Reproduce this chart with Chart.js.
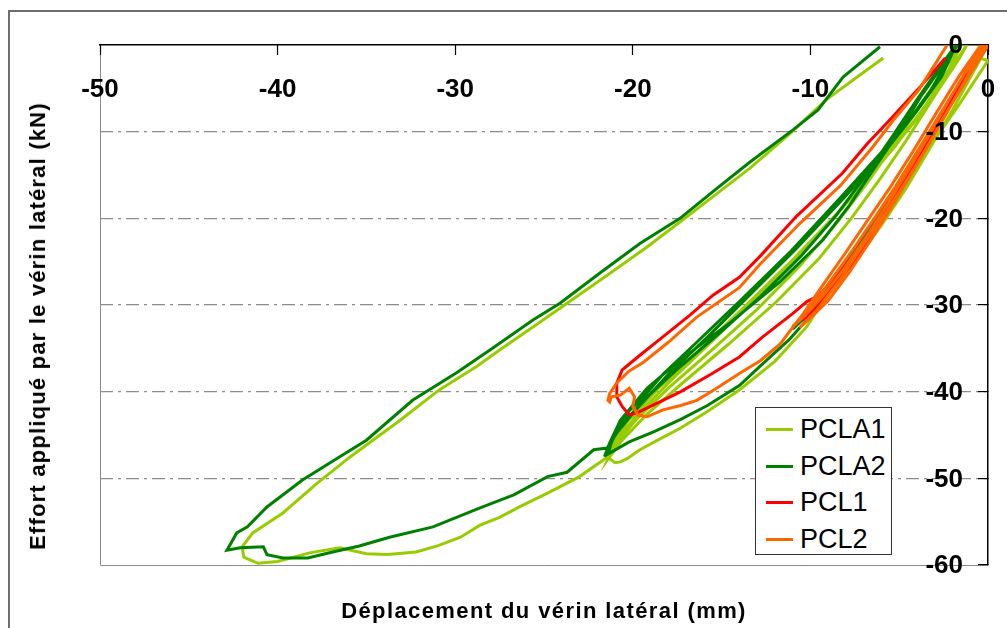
<!DOCTYPE html>
<html>
<head>
<meta charset="utf-8">
<script src="https://cdn.jsdelivr.net/npm/chart.js@4.4.1/dist/chart.umd.min.js"></script>
<style>
  html, body { margin: 0; padding: 0; background: #fff; overflow: hidden; }
  #wrap { position: relative; width: 1007px; height: 628px; overflow: hidden; font-family: "Liberation Sans", Arial, sans-serif; }
  #frame { position: absolute; left: 8px; top: 10px; width: 1100px; height: 700px; border: 2px solid #6e6e6e; }
  canvas { position: absolute; left: 0; top: 0; }
  .x-title { position: absolute; left: 544px; top: 611px; transform: translate(-50%, -50%); font-weight: bold; font-size: 22px; letter-spacing: 1.4px; white-space: nowrap; color: #000; }
  .y-title { position: absolute; left: 38px; top: 326px; transform: translate(-50%, -50%) rotate(-90deg); font-weight: bold; font-size: 22px; letter-spacing: 1.2px; white-space: nowrap; color: #000; }
  .legend { position: absolute; left: 755px; top: 407px; width: 137px; height: 148px; border: 1.5px solid #333; background: #fff; padding-top: 3px; box-sizing: border-box; }
  .legend-row { height: 36.7px; line-height: 36.7px; display: flex; align-items: center; font-size: 27px; color: #000; }
  .legend-line { width: 27px; height: 3px; margin-left: 10px; margin-right: 7px; }
</style>
</head>
<body>
<div id="wrap">
  <div id="frame"></div>
  <canvas id="chart" width="1007" height="628"></canvas>
  <div class="x-title">Déplacement du vérin latéral (mm)</div>
  <div class="y-title">Effort appliqué par le vérin latéral (kN)</div>
  <div class="legend" id="legend"></div>
</div>
<script>
// axis ticks
const xTicks = [-50, -40, -30, -20, -10, 0];
const yTicks = [0, -10, -20, -30, -40, -50, -60];

// series names / colours
const seriesNames = ['PCLA1', 'PCLA2', 'PCL1', 'PCL2'];
const seriesColors = ['#99cc00', '#008000', '#ff0000', '#ff6600'];

// [displacement mm, force kN]
const pcla1 = [
  [0, 0], [-0.8, -3], [-2.0, -7.5], [-3.3, -12], [-4.6, -16.5], [-5.9, -20.5], [-7.3, -24.5], [-8.8, -28.2], [-10.3, -31.5], [-11.0, -32.5],
  [-10.0, -30.5], [-8.6, -27], [-7.1, -23], [-5.7, -18.8], [-4.3, -14.2], [-2.9, -9.6], [-1.6, -5.2], [-0.5, -1.5], [0.0, -1.8],
  [-1.6, -6.8], [-3.2, -11.5], [-4.9, -16.2], [-6.5, -20.5], [-8.3, -26.3], [-10.2, -32.5], [-12.0, -36.5], [-14.0, -39.8], [-15.8, -42.3],
  [-17.3, -44.2], [-18.6, -45.6], [-19.6, -46.7], [-20.3, -47.7], [-20.7, -48.1], [-21.0, -48.2], [-21.4, -47.6],
  [-21.0, -45.5], [-20.2, -43.2], [-18.5, -39.5], [-16.4, -35.5], [-14.0, -30.8], [-11.1, -25.0], [-8.3, -19.0], [-6.0, -13.5], [-4.2, -9.0],
  [-2.8, -5.2], [-1.6, -1.5], [-1.2, 0],
  [-2.0, -2.5], [-3.2, -6.5], [-4.6, -11], [-6.1, -15.5], [-7.7, -20], [-9.5, -24.6], [-11.9, -29.6], [-14.6, -34.5], [-17.2, -39],
  [-19.2, -42.6], [-20.6, -45.6], [-21.4, -47.8],
  [-20.9, -45.6], [-19.8, -42.8], [-17.8, -38.6], [-15.4, -33.9], [-12.8, -28.6], [-10.0, -22.8], [-7.4, -17.0], [-5.2, -11.6], [-3.5, -6.9],
  [-2.2, -2.8], [-1.5, 0],
  [-2.4, -2.6], [-3.7, -6.6], [-5.2, -11.2], [-6.8, -15.9], [-8.5, -20.5], [-10.6, -25.5], [-13.0, -30.5], [-15.6, -35.3], [-18.0, -39.6],
  [-19.8, -43.2], [-21.0, -46.2], [-21.4, -47.5],
  [-23.0, -49.8], [-24.8, -51.7], [-26.3, -53.2], [-27.5, -54.5], [-28.6, -55.4], [-29.7, -56.8], [-31.0, -57.8], [-32.2, -58.5], [-33.8, -58.8],
  [-35.0, -58.7], [-36.5, -58.0], [-38.2, -58.6], [-40.0, -59.6], [-41.1, -59.8], [-41.9, -59.1], [-42.0, -57.9],
  [-41.4, -56.3], [-39.7, -54.0], [-37.8, -50.6], [-35.9, -47.5], [-33.1, -43.3], [-30.9, -39.8], [-28.8, -37.1], [-27.5, -35.2], [-25.6, -32.5],
  [-23.7, -29.8], [-21.4, -26.5], [-19.2, -23.3], [-17.2, -20.2], [-15.3, -17.2], [-13.4, -14.2], [-11.2, -10.3], [-9.1, -6.3], [-7.5, -3.9], [-5.9, -1.5]
];

const pcla2 = [
  [0, 0], [-1.1, -3.5], [-2.4, -8], [-3.8, -12.5], [-5.2, -17], [-6.6, -21], [-8.0, -25], [-9.5, -29], [-11.0, -32.8],
  [-10.2, -31.2], [-8.8, -28], [-7.4, -24.2], [-6.0, -20], [-4.6, -15.5], [-3.2, -10.5], [-1.9, -6], [-0.8, -2], [-0.2, 0],
  [-1.2, -3.5], [-2.6, -8.5], [-4.0, -13], [-5.4, -17.5], [-6.8, -21.5], [-8.3, -26.5], [-9.8, -30.8], [-11.2, -34], [-12.8, -37],
  [-14.0, -39.3], [-15.8, -41.6], [-17.3, -43.2], [-18.8, -44.6], [-20.2, -45.8], [-21.4, -47.2],
  [-21.1, -45.2], [-20.2, -42.2], [-19.4, -40.6], [-18.3, -38.0], [-16.4, -34.3], [-14.0, -29.6], [-11.1, -23.8], [-8.3, -17.6], [-6.1, -12.6],
  [-4.5, -8.8], [-3.2, -5.2], [-2.0, -0.8], [-1.7, 0],
  [-2.6, -2.5], [-3.8, -6], [-5.0, -10], [-6.5, -14.5], [-7.8, -18.5], [-9.3, -22.5], [-11.7, -27.3], [-14.5, -32], [-17.3, -36.3],
  [-19.2, -39.6], [-20.7, -43.3], [-21.3, -45.9], [-21.6, -47.5],
  [-21.0, -45.0], [-20.0, -42.5], [-18.0, -38.0], [-15.8, -33.7], [-13.5, -29.0], [-10.8, -23.5], [-8.0, -17.4], [-5.8, -12.3], [-4.0, -7.6],
  [-2.6, -3.6], [-1.8, 0],
  [-2.7, -2.5], [-4.0, -6.3], [-5.4, -10.6], [-7.0, -15.4], [-8.6, -19.8], [-10.5, -24.3], [-12.8, -29.0], [-15.2, -33.4], [-17.6, -37.6],
  [-19.4, -41.0], [-20.6, -43.8], [-21.45, -46.5], [-22.2, -46.7], [-23.7, -49.3], [-24.8, -49.8], [-26.7, -51.9], [-28.6, -53.4],
  [-31.25, -55.6], [-33.7, -56.8], [-35.4, -57.8], [-36.9, -58.5], [-38.3, -59.2], [-39.7, -59.2], [-40.6, -58.8], [-40.8, -57.9],
  [-42.1, -58.0], [-42.85, -58.3],
  [-42.3, -56.3], [-41.7, -55.6], [-40.6, -53.3], [-38.6, -50.2], [-36.5, -47.5], [-35.0, -45.6], [-32.4, -41.0], [-29.9, -37.8],
  [-27.9, -35.0], [-25.6, -31.7], [-24.1, -29.8], [-21.85, -26.3], [-19.6, -22.9], [-17.34, -20.0], [-15.3, -16.6], [-13.4, -13.5],
  [-10.98, -9.8], [-9.57, -7.5], [-8.16, -3.7], [-6.08, -0.2]
];

const pcl1 = [
  [0, 0], [-1.1, -3.4], [-2.3, -7.6], [-3.5, -11.6], [-4.7, -15.6], [-5.9, -19.6], [-7.1, -23.4], [-8.3, -26.8], [-9.5, -30.0], [-10.4, -31.8],
  [-9.8, -30.6], [-8.7, -28.0], [-7.5, -24.8], [-6.3, -21.0], [-5.1, -17.0], [-3.9, -12.8], [-2.7, -8.6], [-1.6, -4.6], [-0.6, -1.2], [-0.3, 0],
  [-1.3, -3.5], [-2.6, -8.0], [-3.8, -12.2], [-5.0, -16.4], [-6.2, -20.2], [-7.4, -23.8], [-8.6, -27.0], [-9.6, -29.0], [-10.2, -29.6],
  [-11.0, -31.0], [-12.7, -33.7], [-14.0, -36.0], [-15.6, -38.0], [-17.3, -40.0], [-18.6, -41.3], [-19.7, -42.4], [-20.2, -42.7],
  [-20.6, -41.7], [-20.9, -40.6], [-20.9, -39.0], [-20.6, -37.5],
  [-19.6, -35.8], [-18.5, -34.0], [-16.8, -31.2], [-15.5, -28.9], [-14.0, -26.8], [-12.8, -24.3], [-10.8, -19.8], [-8.2, -14.8],
  [-6.8, -11.4], [-5.6, -8.8], [-3.8, -4.8], [-2.4, -1.5]
];

const pcl2 = [
  [0, 0], [-1.2, -4], [-2.4, -8], [-3.5, -12], [-4.7, -16], [-5.8, -19.5], [-7.0, -23], [-8.3, -27], [-9.6, -30.5], [-10.6, -32.6],
  [-10.0, -31.5], [-9.0, -29.5], [-7.8, -26.2], [-6.6, -22.5], [-5.4, -18.6], [-4.2, -14.5], [-3.0, -10.3], [-1.9, -6.3], [-0.8, -2.3], [-0.2, 0],
  [-1.4, -3.6], [-2.7, -8], [-3.9, -12], [-5.2, -16.3], [-6.4, -20], [-7.6, -23.6], [-8.9, -27.3], [-10.1, -30.6], [-11.0, -32.5],
  [-10.3, -31.2], [-9.3, -29.0], [-8.1, -25.8], [-6.8, -22.0], [-5.6, -18.2], [-4.4, -14.2], [-3.2, -10.0], [-2.1, -6.0], [-1.0, -2.2], [-0.4, 0],
  [-1.6, -3.5], [-2.9, -7.8], [-4.2, -12.2], [-5.5, -16.4], [-6.8, -20.3], [-8.1, -24.2], [-9.4, -28.0], [-10.4, -31.0], [-11.0, -32.6],
  [-11.7, -34.5], [-12.8, -36.4], [-14.0, -37.9], [-15.5, -39.9], [-16.4, -41.0], [-17.3, -41.6], [-18.3, -42.1], [-19.2, -42.9],
  [-19.7, -42.7], [-20.0, -41.7], [-19.9, -40.6], [-20.2, -39.6], [-20.7, -40.4], [-21.2, -40.6], [-21.3, -41.2], [-21.4, -41.0],
  [-21.3, -40.2], [-20.9, -39.0], [-20.2, -37.6], [-19.4, -36.6], [-18.0, -34.3], [-16.4, -31.4], [-14.0, -28.0], [-12.8, -25.2],
  [-10.6, -20.6], [-8.3, -16.2], [-6.5, -11.8], [-5.3, -8.6], [-3.9, -5.2], [-2.3, 0]
];

const seriesData = [pcla1, pcla2, pcl1, pcl2];

// legend (html, sits inside the plot like the original)
document.getElementById('legend').innerHTML = seriesNames.map((name, i) => `
  <div class="legend-row"><span class="legend-line" style="background:${seriesColors[i]}"></span>${name}</div>`).join('');

// gray left/bottom edges of the plot box
const plotFrame = {
  id: 'plotFrame',
  beforeDraw(chart) {
    const { ctx, chartArea: a } = chart;
    ctx.save();
    ctx.strokeStyle = '#8c8c8c';
    ctx.lineWidth = 1;
    ctx.beginPath();
    ctx.moveTo(a.left + 0.5, a.top);
    ctx.lineTo(a.left + 0.5, a.bottom + 0.5);
    ctx.lineTo(a.right, a.bottom + 0.5);
    ctx.stroke();
    ctx.restore();
  }
};

// tick labels sit inside the plot (below the top axis, left of the right axis)
const insideTickLabels = {
  id: 'insideTickLabels',
  afterDraw(chart) {
    const { ctx, scales: { x, y } } = chart;
    ctx.save();
    ctx.fillStyle = '#000';
    ctx.font = 'bold 26px "Liberation Sans", Arial, sans-serif';
    ctx.textBaseline = 'middle';
    ctx.textAlign = 'center';
    xTicks.forEach(v => ctx.fillText(String(v), x.getPixelForValue(v), y.top + 45));
    ctx.textAlign = 'right';
    yTicks.forEach(v => ctx.fillText(String(v), x.right - 25, y.getPixelForValue(v) + 1));
    ctx.restore();
  }
};

new Chart(document.getElementById('chart').getContext('2d'), {
  type: 'scatter',
  data: {
    datasets: seriesData.map((pts, i) => ({
      label: seriesNames[i],
      data: pts.map(([x, y]) => ({ x, y })),
      showLine: true,
      borderColor: seriesColors[i],
      backgroundColor: seriesColors[i],
      borderWidth: 3,
      pointRadius: 0,
      tension: 0,
      order: seriesNames.length - i,
    })),
  },
  options: {
    responsive: false,
    animation: false,
    devicePixelRatio: 1,
    layout: { padding: { left: 100, right: 0, top: 0, bottom: 63 } },
    plugins: { legend: { display: false }, tooltip: { enabled: false } },
    scales: {
      x: {
        type: 'linear', position: 'top', min: -50, max: 0,
        afterBuildTicks: s => { s.ticks = xTicks.map(v => ({ value: v })); },
        afterFit: s => { s.height = 45; },
        border: { color: '#000', width: 1.5 },
        grid: { drawOnChartArea: false, drawTicks: true, tickLength: -10, tickColor: '#000', tickWidth: 1.2 },
        ticks: { display: false },
      },
      y: {
        type: 'linear', position: 'right', min: -60, max: 0,
        afterBuildTicks: s => { s.ticks = yTicks.map(v => ({ value: v })); },
        afterFit: s => { s.width = 19; },
        border: { color: '#000', width: 1.5, dash: [13, 5, 3, 5] },
        grid: {
          color: c => (c.tick && (c.tick.value === 0 || c.tick.value === -60)) ? 'rgba(0,0,0,0)' : '#8c8c8c',
          lineWidth: 1.2,
          borderDash: [13, 5, 3, 5],
          tickLength: -10, tickColor: '#000', tickWidth: 1.2, tickBorderDash: [],
        },
        ticks: { display: false },
      },
    },
  },
  plugins: [plotFrame, insideTickLabels],
});
</script>
</body>
</html>
